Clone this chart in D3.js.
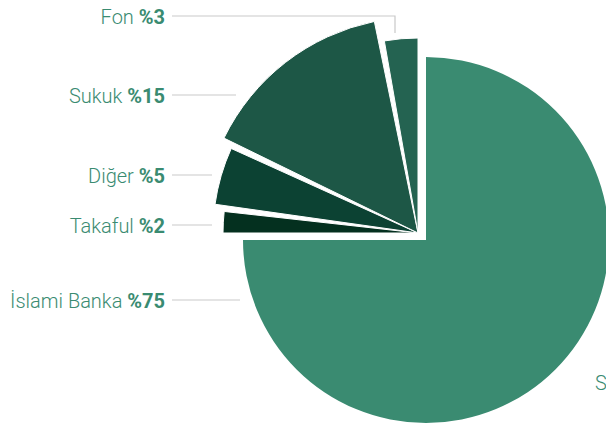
<!DOCTYPE html>
<html>
<head>
<meta charset="utf-8">
<script src="https://cdn.jsdelivr.net/npm/d3@7"></script>
<style>
  html, body { margin: 0; padding: 0; background: #fff; }
  svg { display: block; }
  .lbl { font-family: Roboto, sans-serif; font-size: 20px; fill: #3a8b71; }
  .lbl .name { font-weight: 300; }
  .lbl .val { font-weight: 700; }
  .leader { stroke: #c9c9c9; stroke-width: 1.2px; fill: none; }
</style>
</head>
<body>
<div id="chart"></div>
<script>
(function() {

  // data
  const names = ["İslami Banka", "Takaful", "Diğer", "Sukuk", "Fon"];
  const shares = [75, 2, 5, 15, 3];

  // looks
  const colors = ["#3a8b71", "#04301f", "#0c4233", "#1d5746", "#246351"];
  const width = 606;
  const height = 427;
  const cx = 418;
  const cy = 233;
  const mainOffset = [8, 7];             // big slice pulled out down-right
  const radii = [183, 195, 205, 216, 195];
  const gap = 0.03;                      // radians between the small slices

  // label column (line y, line end x)
  const labelY = [300, 225, 175, 95, 16];
  const lineEnd = [240, 212, 212, 236, 395];
  const textRight = 165;
  const lineStart = 172;

  let svg = d3.select("#chart").append("svg")
    .attr("width", width)
    .attr("height", height);

  let pie = d3.pie().sort(null).startAngle(0).endAngle(2 * Math.PI);
  let slices = pie(shares);
  let last = slices.length - 1;

  // trim the small slices so they have a little wedge of white between them
  slices.forEach(function(d, i) {
    if (i > 1) d.startAngle += gap / 2;
    if (i > 0 && i < last) d.endAngle -= gap / 2;
  });

  let g = svg.append("g").attr("transform", "translate(" + cx + "," + cy + ")");

  g.selectAll("path")
    .data(slices)
    .enter().append("path")
    .attr("d", function(d, i) {
      return d3.arc().innerRadius(0).outerRadius(radii[i])(d);
    })
    .attr("transform", function(d, i) {
      return i === 0 ? "translate(" + mainOffset[0] + "," + mainOffset[1] + ")" : null;
    })
    .attr("fill", function(d, i) { return colors[i]; })
    .attr("stroke", "#fff")
    .attr("stroke-width", function(d, i) { return i === 0 ? 0 : 1; });

  // leader lines
  svg.selectAll(".leader")
    .data(names)
    .enter().append("path")
    .attr("class", "leader")
    .attr("d", function(d, i) {
      let p = d3.path();
      p.moveTo(lineStart, labelY[i]);
      p.lineTo(lineEnd[i], labelY[i]);
      if (i === last) p.lineTo(lineEnd[i], 33);
      return p.toString();
    });

  // labels
  let lbl = svg.selectAll(".lbl")
    .data(names)
    .enter().append("text")
    .attr("class", "lbl")
    .attr("x", textRight)
    .attr("y", function(d, i) { return labelY[i] + 7.5; })
    .attr("text-anchor", "end");

  lbl.append("tspan").attr("class", "name").text(function(d) { return d + " "; });
  lbl.append("tspan").attr("class", "val").text(function(d, i) { return "%" + shares[i]; });

  // cut off label at the right edge
  svg.append("text")
    .attr("class", "lbl")
    .attr("x", 595)
    .attr("y", 390)
    .append("tspan").attr("class", "name")
    .text("S");

})();
</script>
</body>
</html>
